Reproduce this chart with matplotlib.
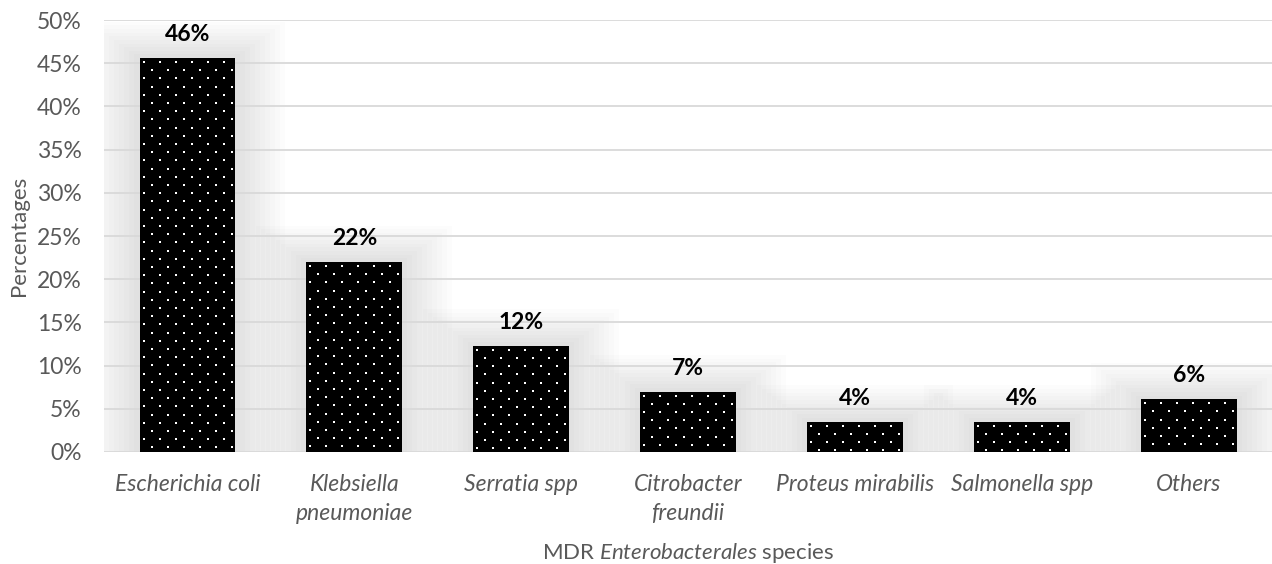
import numpy as np
import matplotlib.pyplot as plt
from matplotlib.patches import Rectangle
from matplotlib.transforms import IdentityTransform

plt.rcParams['font.family'] = ['Lato', 'DejaVu Sans']
plt.rcParams['mathtext.fontset'] = 'custom'
plt.rcParams['mathtext.rm'] = 'Lato'
plt.rcParams['mathtext.it'] = 'Lato:italic'

species = ['Escherichia coli', 'Klebsiella\npneumoniae', 'Serratia spp',
           'Citrobacter\nfreundii', 'Proteus mirabilis', 'Salmonella spp', 'Others']
percent = [45.6, 22.0, 12.3, 7.0, 3.5, 3.5, 6.1]
yticks = [0, 5, 10, 15, 20, 25, 30, 35, 40, 45, 50]

grey = '#595959'

fig = plt.figure(figsize=(12.72, 5.64), dpi=100)
ax = fig.add_axes([0.0818, 0.1986, 0.9182, 0.7659])
ax.set_xlim(-0.5, len(species) - 0.5)
ax.set_ylim(0, 50)

x = np.arange(len(species))
width = 0.575

# soft grey glow behind each bar
for xi, v in zip(x, percent):
    for k in range(1, 11):
        dx = 0.03 * k
        dy = 0.42 * k
        ax.add_patch(Rectangle((xi - width / 2 - dx, 0), width + 2 * dx, v + dy,
                               facecolor='black', edgecolor='none', alpha=0.01, zorder=0.5))

bars = ax.bar(x, percent, width=width, color='black', linewidth=0, zorder=3)

# dotted fill: staggered white dots laid out in pixel space inside each bar
for b in bars:
    (x0, y0), (x1, y1) = ax.transData.transform([(b.get_x(), 0), (b.get_x() + b.get_width(), b.get_height())])
    pts = []
    for r, py in enumerate(np.arange(y1 - 4, y0, -8.2)):
        off = 8 if r % 2 else 0
        for px in np.arange(x0 + 4 + off, x1, 16):
            pts.append((px, py))
    pts = np.array(pts)
    ax.scatter(pts[:, 0], pts[:, 1], s=2.2, c='white', marker='s', linewidths=0,
               transform=IdentityTransform(), zorder=3.5)

for xi, v in zip(x, percent):
    ax.text(xi, v + 1.5, f'{round(v)}%', ha='center', va='bottom', fontsize=16.5,
            fontweight='bold', color='black', zorder=4)

ax.set_yticks(yticks)
ax.set_yticklabels([f'{t}%' for t in yticks])
ax.set_xticks(x)
ax.set_xticklabels(species, fontstyle='italic', linespacing=1.45)
ax.tick_params(axis='both', length=0, labelsize=16.5, labelcolor=grey)
ax.tick_params(axis='x', pad=16)
ax.tick_params(axis='y', pad=16)

ax.grid(axis='y', color='#d9d9d9', linewidth=1.3, zorder=1)
ax.set_axisbelow(True)
for s in ax.spines.values():
    s.set_visible(False)

ax.set_ylabel('Percentages', fontsize=16, color=grey, labelpad=6)
ax.set_xlabel('MDR $\\mathit{Enterobacterales}$ species', fontsize=16, color=grey, labelpad=12)

fig.savefig('out.png', dpi=100)
